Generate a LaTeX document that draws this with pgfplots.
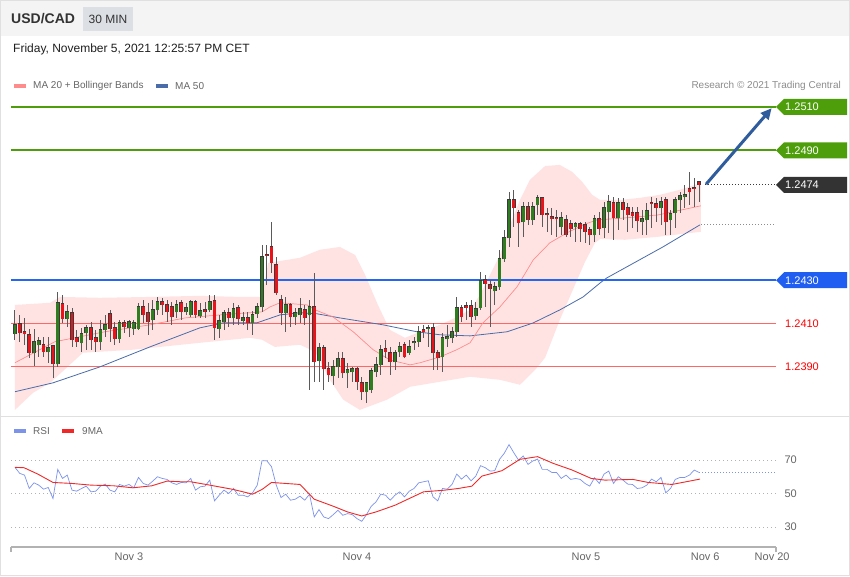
\documentclass[border=0pt]{standalone}
\usepackage{fontspec}
\setmainfont{Liberation Sans}
\usepackage{pgfplots}
\pgfplotsset{compat=1.18}
\usepackage{pgfplotstable}
\usetikzlibrary{arrows.meta}

\definecolor{hdr}{HTML}{F4F4F4}
\definecolor{tagbox}{HTML}{DCDFE4}
\definecolor{cgreen}{HTML}{2E7D1E}
\definecolor{lgreen}{HTML}{4E9E0C}
\definecolor{cred}{HTML}{E8141B}
\definecolor{edge}{HTML}{3A3A3A}
\definecolor{wick}{HTML}{5A5A5A}
\definecolor{lblue}{HTML}{2466F2}
\definecolor{tblue}{HTML}{1F5EF0}
\definecolor{lred}{HTML}{FF6666}
\definecolor{bandfill}{HTML}{FFE3E3}
\definecolor{maxx}{HTML}{FF8C8C}
\definecolor{mayy}{HTML}{4A6CA8}
\definecolor{arrowblue}{HTML}{2F5C9C}
\definecolor{dark}{HTML}{333333}
\definecolor{txtgray}{HTML}{666666}
\definecolor{rsiblue}{HTML}{7D93EA}
\definecolor{manine}{HTML}{F02828}

\pgfplotstableread{
i O H L C
0 1.24052 1.24162 1.24024 1.24093
1 1.24098 1.24139 1.24015 1.24056
2 1.24061 1.24125 1.24001 1.24052
3 1.24047 1.24075 1.23941 1.23964
4 1.23964 1.24075 1.23904 1.24015
5 1.24001 1.24038 1.23945 1.24019
6 1.24001 1.24038 1.23945 1.23968
7 1.23968 1.24038 1.23918 1.23987
8 1.23996 1.24001 1.23848 1.23913
9 1.23913 1.24245 1.23899 1.24195
10 1.24190 1.24232 1.24102 1.24121
11 1.24121 1.24185 1.24084 1.24153
12 1.24149 1.24172 1.23991 1.24024
13 1.24033 1.24070 1.23991 1.24015
14 1.24010 1.24079 1.23968 1.24052
15 1.24056 1.24093 1.23978 1.24079
16 1.24079 1.24107 1.23978 1.24024
17 1.24033 1.24070 1.23968 1.24015
18 1.24015 1.24116 1.23978 1.24070
19 1.24070 1.24139 1.24038 1.24093
20 1.24144 1.24162 1.24015 1.24075
21 1.24079 1.24107 1.24001 1.24028
22 1.24028 1.24116 1.24010 1.24102
23 1.24102 1.24116 1.24056 1.24084
24 1.24079 1.24116 1.24038 1.24107
25 1.24075 1.24116 1.24047 1.24102
26 1.24075 1.24195 1.24070 1.24176
27 1.24176 1.24209 1.24102 1.24139
28 1.24149 1.24195 1.24047 1.24107
29 1.24116 1.24209 1.24070 1.24162
30 1.24162 1.24222 1.24139 1.24199
31 1.24199 1.24218 1.24139 1.24185
32 1.24185 1.24209 1.24107 1.24153
33 1.24176 1.24199 1.24093 1.24130
34 1.24153 1.24209 1.24125 1.24185
35 1.24195 1.24209 1.24116 1.24153
36 1.24153 1.24195 1.24139 1.24172
37 1.24139 1.24209 1.24130 1.24199
38 1.24199 1.24209 1.24125 1.24139
39 1.24135 1.24195 1.24125 1.24158
40 1.24162 1.24199 1.24125 1.24153
41 1.24162 1.24232 1.24153 1.24199
42 1.24204 1.24232 1.24024 1.24079
43 1.24075 1.24139 1.24033 1.24112
44 1.24107 1.24162 1.24070 1.24149
45 1.24149 1.24172 1.24084 1.24125
46 1.24125 1.24195 1.24093 1.24167
47 1.24172 1.24185 1.24093 1.24121
48 1.24112 1.24153 1.24093 1.24125
49 1.24125 1.24153 1.24070 1.24102
50 1.24102 1.24158 1.24047 1.24139
51 1.24144 1.24195 1.24125 1.24176
52 1.24176 1.24463 1.24153 1.24407
53 1.24416 1.24463 1.24278 1.24412
54 1.24453 1.24569 1.24333 1.24379
55 1.24370 1.24407 1.24232 1.24241
56 1.24209 1.24232 1.24093 1.24149
57 1.24149 1.24222 1.24061 1.24185
58 1.24185 1.24195 1.24084 1.24130
59 1.24130 1.24172 1.24093 1.24149
60 1.24139 1.24218 1.24102 1.24167
61 1.24162 1.24185 1.24093 1.24125
62 1.24139 1.24209 1.23793 1.24176
63 1.24176 1.24333 1.23830 1.23922
64 1.23927 1.24010 1.23830 1.23987
65 1.23987 1.24001 1.23793 1.23890
66 1.23890 1.23922 1.23830 1.23862
67 1.23858 1.23931 1.23816 1.23899
68 1.23899 1.23968 1.23848 1.23936
69 1.23936 1.23968 1.23848 1.23871
70 1.23871 1.23918 1.23802 1.23885
71 1.23876 1.23899 1.23830 1.23890
72 1.23890 1.23899 1.23793 1.23830
73 1.23825 1.23853 1.23747 1.23784
74 1.23784 1.23830 1.23733 1.23825
75 1.23793 1.23894 1.23779 1.23881
76 1.23876 1.23945 1.23853 1.23908
77 1.23908 1.24001 1.23862 1.23978
78 1.23982 1.24024 1.23941 1.23968
79 1.23964 1.23991 1.23862 1.23922
80 1.23922 1.23978 1.23885 1.23964
81 1.23968 1.24015 1.23945 1.23991
82 1.24001 1.24015 1.23941 1.23945
83 1.23964 1.24024 1.23955 1.23991
84 1.24010 1.24038 1.23978 1.24015
85 1.24015 1.24088 1.23991 1.24061
86 1.24070 1.24093 1.24033 1.24061
87 1.24075 1.24093 1.23991 1.24079
88 1.24079 1.24102 1.23885 1.23964
89 1.23964 1.23978 1.23885 1.23941
90 1.23945 1.24056 1.23876 1.24033
91 1.24028 1.24093 1.23991 1.24038
92 1.24033 1.24084 1.24010 1.24061
93 1.24061 1.24222 1.24038 1.24172
94 1.24172 1.24185 1.24107 1.24130
95 1.24181 1.24199 1.24116 1.24172
96 1.24181 1.24209 1.24084 1.24130
97 1.24135 1.24199 1.24116 1.24167
98 1.24172 1.24338 1.24162 1.24296
99 1.24301 1.24324 1.24176 1.24282
100 1.24278 1.24301 1.24084 1.24259
101 1.24250 1.24292 1.24185 1.24269
102 1.24269 1.24440 1.24255 1.24398
103 1.24398 1.24532 1.24384 1.24495
104 1.24495 1.24707 1.24453 1.24670
105 1.24670 1.24717 1.24546 1.24633
106 1.24610 1.24624 1.24453 1.24564
107 1.24569 1.24661 1.24500 1.24638
108 1.24638 1.24661 1.24555 1.24578
109 1.24578 1.24661 1.24555 1.24638
110 1.24647 1.24694 1.24601 1.24680
111 1.24680 1.24684 1.24546 1.24601
112 1.24606 1.24633 1.24523 1.24601
113 1.24592 1.24633 1.24509 1.24583
114 1.24587 1.24624 1.24500 1.24583
115 1.24546 1.24615 1.24509 1.24587
116 1.24578 1.24601 1.24500 1.24509
117 1.24560 1.24578 1.24500 1.24537
118 1.24546 1.24569 1.24476 1.24560
119 1.24560 1.24569 1.24476 1.24537
120 1.24555 1.24569 1.24472 1.24523
121 1.24532 1.24546 1.24463 1.24509
122 1.24509 1.24601 1.24476 1.24583
123 1.24583 1.24615 1.24509 1.24537
124 1.24541 1.24661 1.24495 1.24633
125 1.24615 1.24694 1.24518 1.24661
126 1.24657 1.24684 1.24486 1.24587
127 1.24587 1.24680 1.24532 1.24657
128 1.24657 1.24680 1.24578 1.24624
129 1.24633 1.24657 1.24523 1.24601
130 1.24610 1.24638 1.24541 1.24597
131 1.24610 1.24638 1.24523 1.24573
132 1.24569 1.24624 1.24509 1.24583
133 1.24578 1.24657 1.24509 1.24620
134 1.24657 1.24684 1.24541 1.24652
135 1.24652 1.24680 1.24569 1.24633
136 1.24633 1.24684 1.24555 1.24661
137 1.24670 1.24684 1.24509 1.24569
138 1.24578 1.24624 1.24509 1.24606
139 1.24610 1.24684 1.24541 1.24670
140 1.24670 1.24707 1.24610 1.24689
141 1.24684 1.24740 1.24633 1.24694
142 1.24721 1.24800 1.24647 1.24707
143 1.24726 1.24772 1.24638 1.24721
144 1.24754 1.24758 1.24661 1.24740
}\candles

% Bollinger band outline: upper band left to right, then lower band right to left
\pgfplotstableread{
i p
0 1.24185
7.4 1.24195
9.5 1.24222
17.9 1.24218
28.4 1.24222
38.9 1.24227
47.4 1.24222
52 1.24222
53.3 1.24379
60 1.24403
64.2 1.24440
68.4 1.24453
71.6 1.24416
73.7 1.24324
76.4 1.24185
78.9 1.24070
82.1 1.24033
85.3 1.24061
89.5 1.24093
92.6 1.24125
95.8 1.24162
97.9 1.24232
100 1.24324
102.1 1.24416
104.2 1.24555
106.3 1.24670
108.4 1.24763
111.6 1.24827
114.7 1.24832
117.3 1.24800
119.4 1.24754
121.5 1.24694
123.2 1.24670
127.4 1.24670
131.6 1.24680
135.8 1.24694
140 1.24717
144.4 1.24749
144.4 1.24523
135.4 1.24500
128.4 1.24486
123.2 1.24490
122.1 1.24472
120 1.24384
117.9 1.24278
114.7 1.24116
111.6 1.23941
109.5 1.23885
106.3 1.23816
102.1 1.23839
95.8 1.23853
89.5 1.23830
83.2 1.23807
78.3 1.23747
72.6 1.23700
69.1 1.23747
66.3 1.23839
63.2 1.23968
60 1.24001
54.7 1.23991
52 1.24024
49.5 1.24033
38.9 1.24010
24.8 1.23978
14.3 1.23964
7.4 1.23825
3.8 1.23779
0 1.23700
}\bandpoly

\pgfplotstableread{
i p
0 1.23918
8.4 1.24015
18.9 1.24061
28.4 1.24093
35.8 1.24125
43.2 1.24139
49.5 1.24149
52 1.24153
53.7 1.24176
55.8 1.24195
61.5 1.24185
63.2 1.24162
66.9 1.24130
71.2 1.24061
75.4 1.23978
78.9 1.23931
83.2 1.23908
85.3 1.23918
89.5 1.23945
93 1.23978
95.8 1.24010
98.5 1.24102
102.1 1.24176
105.7 1.24269
109.1 1.24393
112.6 1.24472
116.2 1.24518
119.6 1.24555
122.5 1.24578
128.4 1.24587
135.4 1.24601
144.4 1.24643
}\matwenty

\pgfplotstableread{
i p
0 1.23784
8 1.23825
17.9 1.23899
28.4 1.23991
38.9 1.24079
43.8 1.24102
50.9 1.24102
55.8 1.24139
60 1.24149
63.6 1.24144
68.4 1.24125
77.5 1.24093
84.6 1.24061
89.5 1.24047
95.8 1.24042
103.6 1.24061
109.1 1.24102
114.7 1.24162
119.6 1.24222
123.2 1.24287
124.6 1.24310
136.4 1.24453
144.2 1.24555
}\mafifty

\pgfplotstableread{
i r
0 65.6
1 62
2 61
3 53
4 56.4
5 55
6 52.6
7 53.6
8 47
9 64.4
10 59
11 61
12 52
13 51.4
14 53
15 54.4
16 51
17 51.4
18 54.4
19 55.6
20 52
21 51
22 55.4
23 54.4
24 55.4
25 53.4
26 59.6
27 56
28 55
29 57.4
30 60
31 59
32 58.4
33 56.4
34 55.4
35 56.6
36 56.4
37 59
38 52
39 54
40 54.4
41 58
42 45.6
43 49
44 52
45 50
46 53
47 49
48 49
49 48
50 50.4
51 55
52 69.6
53 69.6
54 66
55 55
56 47.6
57 49.6
58 46
59 46.6
60 48.4
61 46
62 49.6
63 36
64 40.4
65 36
66 35
67 37.4
68 40
69 37
70 38
71 37.4
72 35
73 33.4
74 37.4
75 42.4
76 45
77 49.6
78 49
79 46
80 49
81 51
82 48
83 51.4
84 53
85 56.4
86 57
87 57.6
88 48
89 45.6
90 53
91 52.6
92 55.4
93 61.6
94 58.6
95 61
96 57.6
97 60.4
98 66.6
99 65.4
100 63.4
101 63.6
102 70.4
103 74
104 79.2
105 74.4
106 70
107 72.4
108 67.4
109 69.4
110 70.6
111 64.4
112 64.4
113 62.6
114 62.6
115 59
116 61
117 58.4
118 59
119 58.4
120 56
121 54.4
122 59.4
123 56
124 61.6
125 63.4
126 56
127 60
128 58
129 55.6
130 55.4
131 53
132 53.4
133 55
134 58.6
135 57
136 59.6
137 50.4
138 53
139 58.4
140 59.6
141 59.6
142 61
143 64
144 62.6
}\rsitab

\pgfplotstableread{
i r
0 65.6
1.9 65.4
4.8 61.6
8 56.6
12 56
16 55
20.8 54.6
24.8 53.4
28.8 54.6
32 57.4
35 57
37 57
41 55
46 52.4
50 49.6
52 52.4
54 56.6
60 55.4
63 46.6
67 42.4
70 39
73 36.6
76 39
80 43
83 47
86 51
90.5 52
93.3 53
96.2 54.4
98.3 60.4
102.5 63.6
106.3 70.4
110 72
113.3 68
117.3 64
121.3 59
124.2 58
130.1 58.4
133.3 56.6
138.3 55.4
144.2 58.6
}\manineT

\begin{document}
\begin{tikzpicture}[x=1pt,y=1pt]
\fill[white] (0,0) rectangle (850,576);
\fill[hdr] (0,540) rectangle (850,576);
\draw[black!12] (0.5,0.5) rectangle (849.5,575.5);
\draw[black!12] (0.5,160) -- (849.5,160);
\fill[tagbox] (83,545) rectangle (133,569);
\node[anchor=west, inner sep=0, font=\fontsize{14}{16}\selectfont\bfseries, text=dark] at (11,557) {USD/CAD};
\node[inner sep=0, font=\fontsize{12}{14}\selectfont, text=dark] at (108,557) {30 MIN};
\node[anchor=west, inner sep=0, font=\fontsize{12}{14}\selectfont, text=black!88] at (13,527) {Friday, November 5, 2021 12:25:57 PM CET};
% main legend
\fill[maxx] (14,488) rectangle (26,492);
\node[anchor=west, inner sep=0, font=\fontsize{10}{12}\selectfont, text=txtgray] at (33,490) {MA 20 + Bollinger Bands};
\fill[mayy] (156,488) rectangle (168,492);
\node[anchor=west, inner sep=0, font=\fontsize{10}{12}\selectfont, text=txtgray] at (175,490) {MA 50};
\node[anchor=east, inner sep=0, font=\fontsize{10}{12}\selectfont, text=black!45] at (841,490) {Research © 2021 Trading Central};
% rsi legend
\fill[rsiblue] (14,143) rectangle (26,147);
\node[anchor=west, inner sep=0, font=\fontsize{10}{12}\selectfont, text=txtgray] at (33,145) {RSI};
\fill[manine] (62,143) rectangle (74,147);
\node[anchor=west, inner sep=0, font=\fontsize{10}{12}\selectfont, text=txtgray] at (82,145) {9MA};

\begin{axis}[
  at={(11pt,164pt)}, anchor=south west, scale only axis,
  width=765pt, height=317pt,
  y coord trafo/.code={\pgfmathparse{(#1-1.24)*10000}},
  y coord inv trafo/.code={\pgfmathparse{#1/10000+1.24}},
  xmin=-0.842, xmax=160.21, ymin=1.236912, ymax=1.251554,
  hide axis, clip=false,
]
\addplot[fill=bandfill, draw=none, forget plot] table[x=i,y=p] {\bandpoly} -- cycle;

\addplot[lred, line width=0.8pt] coordinates {(-0.842,1.2410) (160.21,1.2410)};
\addplot[lred, line width=0.8pt] coordinates {(-0.842,1.2390) (160.21,1.2390)};
\addplot[mayy, line width=0.8pt] table[x=i,y=p] {\mafifty};
\addplot[maxx, line width=0.7pt] table[x=i,y=p] {\matwenty};
\addplot[lgreen, line width=1.5pt] coordinates {(-0.842,1.2510) (160.21,1.2510)};
\addplot[lgreen, line width=1.5pt] coordinates {(-0.842,1.2490) (160.21,1.2490)};
\addplot[lblue, line width=1.3pt] coordinates {(-0.842,1.2430) (160.21,1.2430)};

% candles, read from the table
\pgfplotsinvokeforeach{0,...,144}{%
  \pgfplotstablegetelem{#1}{O}\of\candles \let\vO=\pgfplotsretval
  \pgfplotstablegetelem{#1}{H}\of\candles \let\vH=\pgfplotsretval
  \pgfplotstablegetelem{#1}{L}\of\candles \let\vL=\pgfplotsretval
  \pgfplotstablegetelem{#1}{C}\of\candles \let\vC=\pgfplotsretval
  \ifdim\vC pt<\vO pt \def\colname{cred}\else\def\colname{cgreen}\fi
  \edef\candlecmd{%
    \noexpand\addplot[wick, line width=1pt, forget plot] coordinates {(#1,\vL) (#1,\vH)};%
    \noexpand\addplot[edge, line width=3.8pt, shorten >=-0.5pt, shorten <=-0.5pt, forget plot] coordinates {(#1,\vO) (#1,\vC)};%
    \noexpand\addplot[\colname, line width=2.6pt, forget plot] coordinates {(#1,\vO) (#1,\vC)};%
  }\candlecmd
}

% dotted guides
\addplot[edge, line width=0.8pt, dash pattern=on 1pt off 2pt] coordinates {(145.3,1.2474) (160.21,1.2474)};
\addplot[black!45, line width=0.8pt, dash pattern=on 1pt off 2pt] coordinates {(144.5,1.24555) (160.21,1.24555)};

% arrow
\draw[arrowblue, line width=3pt, -{Triangle[length=11pt,width=10pt]}] (axis cs:145.5,1.24744) -- (axis cs:159.3,1.25095);

% tags
\fill[lgreen] (axis cs:160.21,1.2510) -- ++(8pt,8pt) -- ++(63pt,0pt) -- ++(0pt,-16pt) -- ++(-63pt,0pt) -- cycle;
\path (axis cs:160.21,1.2510) ++(9pt,0pt) node[anchor=west, inner sep=0, text=white, font=\fontsize{11}{13}\selectfont] {1.2510};
\fill[lgreen] (axis cs:160.21,1.2490) -- ++(8pt,8pt) -- ++(63pt,0pt) -- ++(0pt,-16pt) -- ++(-63pt,0pt) -- cycle;
\path (axis cs:160.21,1.2490) ++(9pt,0pt) node[anchor=west, inner sep=0, text=white, font=\fontsize{11}{13}\selectfont] {1.2490};
\fill[dark] (axis cs:160.21,1.2474) -- ++(8pt,8pt) -- ++(63pt,0pt) -- ++(0pt,-16pt) -- ++(-63pt,0pt) -- cycle;
\path (axis cs:160.21,1.2474) ++(9pt,0pt) node[anchor=west, inner sep=0, text=white, font=\fontsize{11}{13}\selectfont] {1.2474};
\fill[tblue] (axis cs:160.21,1.2430) -- ++(8pt,8pt) -- ++(63pt,0pt) -- ++(0pt,-16pt) -- ++(-63pt,0pt) -- cycle;
\path (axis cs:160.21,1.2430) ++(9pt,0pt) node[anchor=west, inner sep=0, text=white, font=\fontsize{11}{13}\selectfont] {1.2430};
\path (axis cs:160.21,1.2410) ++(9pt,0pt) node[anchor=west, inner sep=0, text=red, font=\fontsize{11}{13}\selectfont] {1.2410};
\path (axis cs:160.21,1.2390) ++(9pt,0pt) node[anchor=west, inner sep=0, text=red, font=\fontsize{11}{13}\selectfont] {1.2390};
\end{axis}

\begin{axis}[
  at={(11pt,29pt)}, anchor=south west, scale only axis,
  width=765pt, height=122pt,
  xmin=-0.842, xmax=160.21, ymin=18.06, ymax=90.9,
  axis x line*=bottom, axis y line*=right,
  x axis line style={draw=black!30, line width=1.6pt},
  y axis line style={draw=none},
  /pgf/number format/assume math mode=true,
  ytick={30,50,70},
  yticklabel style={font=\fontsize{11}{13}\selectfont, text=txtgray, xshift=5pt},
  xtick={24,72,120.2,145.3,159.4},
  xticklabels={Nov 3,Nov 4,Nov 5,Nov 6,Nov 20},
  xticklabel style={font=\fontsize{11}{13}\selectfont, text=txtgray, yshift=-2pt},
  major tick length=0pt,
  extra x ticks={-0.842,160.21}, extra x tick labels={},
  extra x tick style={major tick length=5pt, tick align=outside, tick style={draw=black!30, line width=1.2pt}},
  ymajorgrids, grid style={black!30, line width=0.7pt, dash pattern=on 1pt off 3pt},
  clip=false,
]
\addplot[rsiblue, line width=0.7pt] table[x=i,y=r] {\rsitab};
\addplot[manine, line width=0.9pt] table[x=i,y=r] {\manineT};
\addplot[rsiblue, line width=0.8pt, dash pattern=on 1pt off 2pt] coordinates {(144,62.6) (160.21,62.6)};
\end{axis}
\end{tikzpicture}
\end{document}
